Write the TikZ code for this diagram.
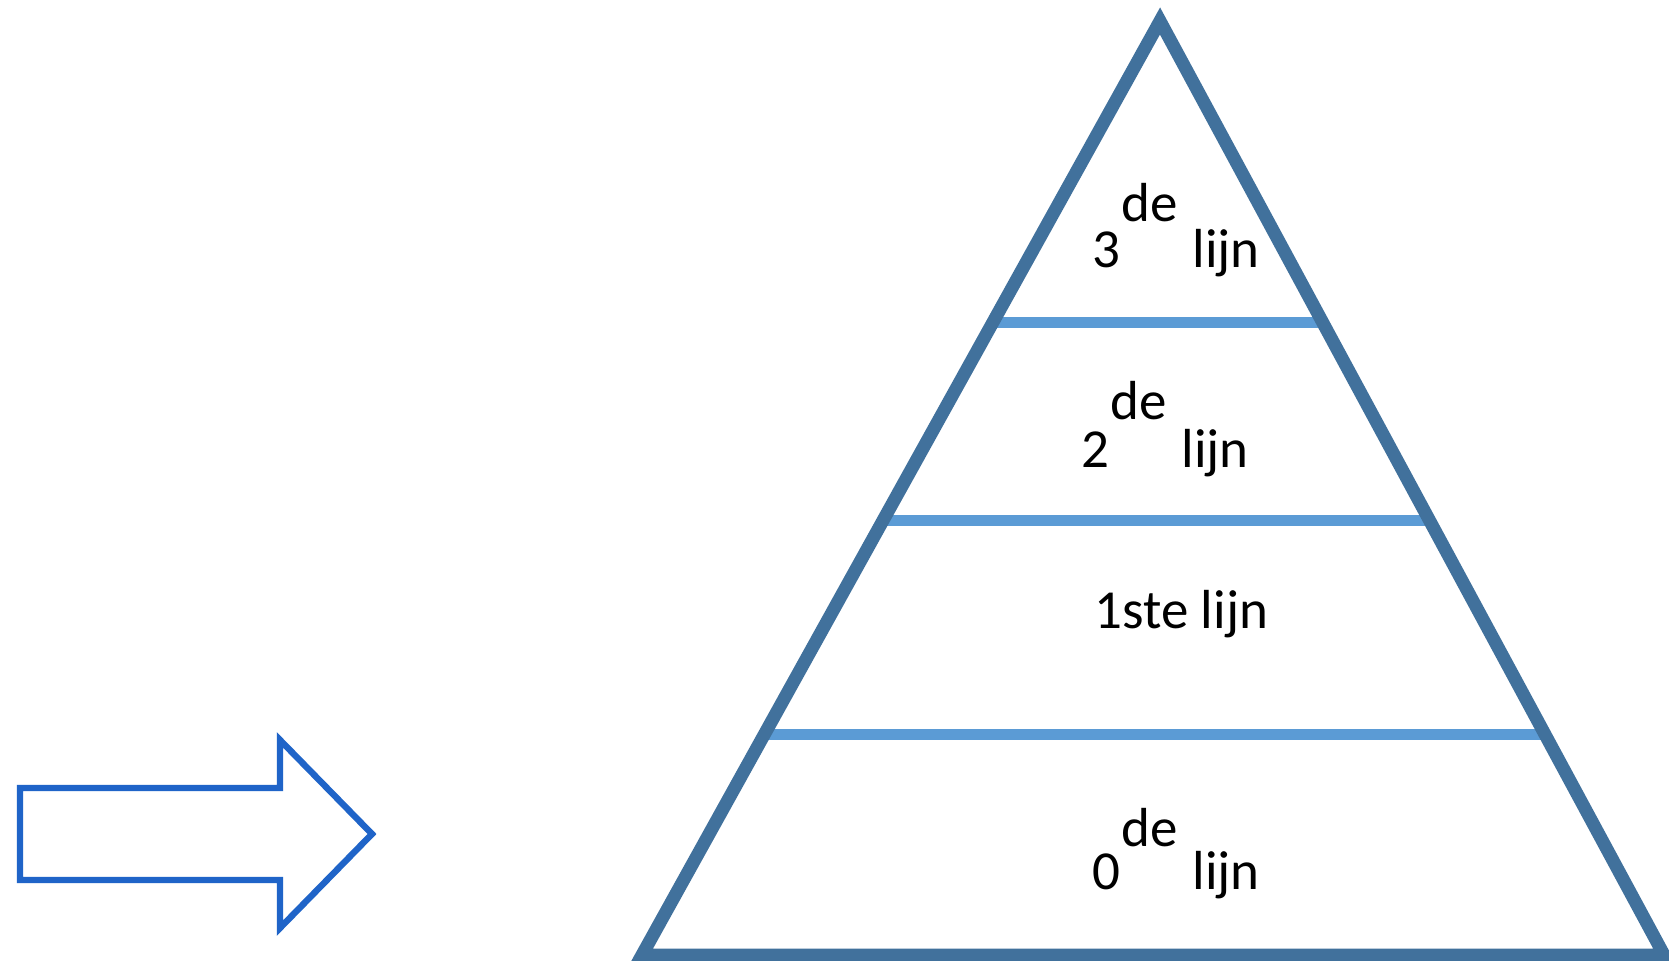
\documentclass[tikz,border=0pt]{standalone}
\usepackage{fontspec}
\setmainfont{Carlito}
\usetikzlibrary{calc}
\definecolor{tri}{HTML}{41719C}
\definecolor{lvl}{HTML}{5B9BD5}
\definecolor{arr}{HTML}{1F64C8}
\begin{document}
\begin{tikzpicture}[x=0.5pt,y=-0.5pt,
  lab/.style={anchor=base west,inner sep=0pt,font=\fontsize{27.5}{33}\selectfont},
  level/.style={draw=lvl,line width=5.5pt},
  tribox/.style={draw=tri,line width=6.5pt,line join=miter},
  bigarrow/.style={draw=arr,line width=3.2pt,line join=miter}]
\useasboundingbox (0,0) rectangle (1669,961);
\fill[white] (0,0) rectangle (1669,961);
\coordinate (apex) at (1160,21);
\coordinate (bl) at (642,955);
\coordinate (br) at (1664,955);
% level lines
\coordinate (l1a) at ($(apex)!0.3223!(bl)$);
\coordinate (l1b) at ($(apex)!0.3223!(br)$);
\coordinate (l2a) at ($(apex)!0.5343!(bl)$);
\coordinate (l2b) at ($(apex)!0.5343!(br)$);
\coordinate (l3a) at ($(apex)!0.7634!(bl)$);
\coordinate (l3b) at ($(apex)!0.7634!(br)$);
\draw[level] (l1a) -- (l1b);
\draw[level] (l2a) -- (l2b);
\draw[level] (l3a) -- (l3b);
\draw[tribox] (apex) -- (bl) -- (br) -- cycle;
% labels
\node[lab] (n3) at (1092,268) {3};
\node[lab] (s3) at (1121,222) {de};
\node[lab] (w3) at (1192,268) {lijn};
\node[lab] (n2) at (1081,468) {2};
\node[lab] (s2) at (1110,420) {de};
\node[lab] (w2) at (1181,468) {lijn};
\node[lab] (n1) at (1094,629) {1ste lijn};
\node[lab] (n0) at (1092,889) {0};
\node[lab] (s0) at (1121,846) {de};
\node[lab] (w0) at (1192,889) {lijn};
% arrow
\draw[bigarrow] (20,788) -- (280,788) -- (280,740) -- (372,834) -- (280,928) -- (280,880) -- (20,880) -- cycle;
\end{tikzpicture}
\end{document}
